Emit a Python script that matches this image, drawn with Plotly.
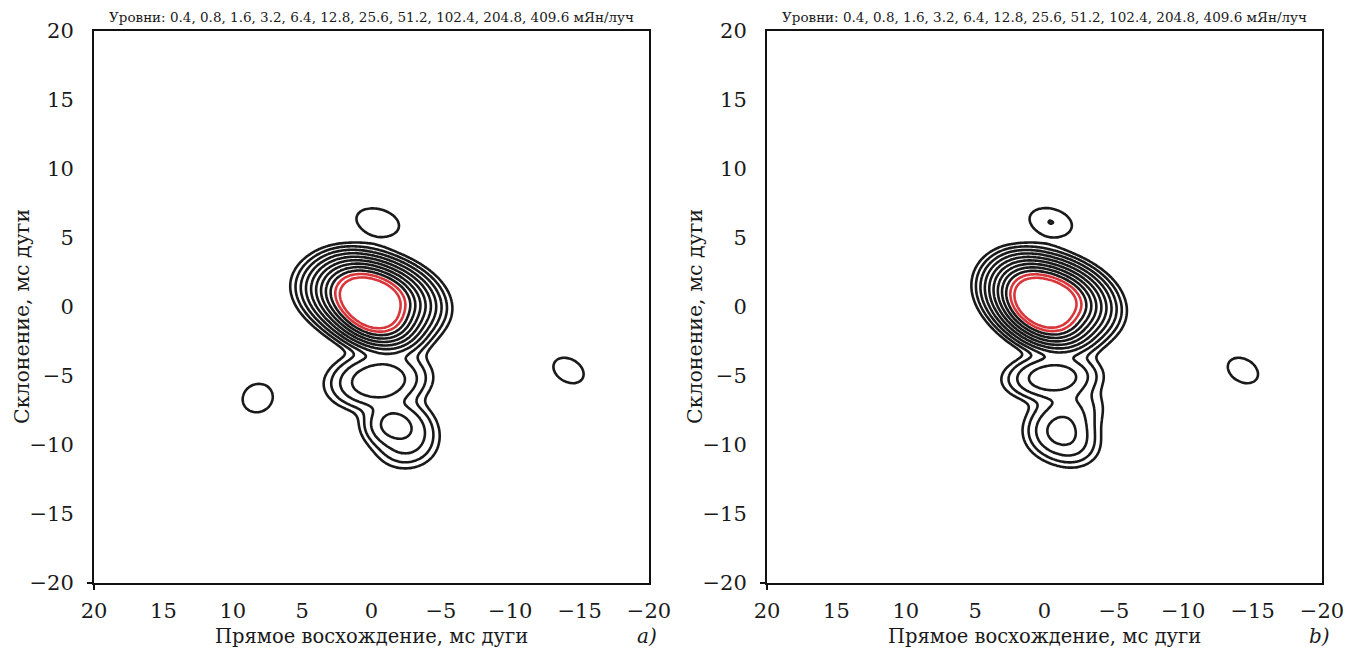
import numpy as np
import plotly.graph_objects as go

# ---- contour levels (mJy/beam) and axis ticks ----
LEVELS = [0.4, 0.8, 1.6, 3.2, 6.4, 12.8, 25.6, 51.2, 102.4, 204.8, 409.6]
TICKS = [20, 15, 10, 5, 0, -5, -10, -15, -20]
TITLE = "Уровни: " + ", ".join(f"{v:g}" for v in LEVELS) + " мЯн/луч"

# ---- source model components read from the maps (mas, mJy/beam) ----
# panel a
A_NAME = ["core_in", "core_out", "knot1", "knot2", "tail1", "tail2", "isl_top", "isl_left", "isl_right"]
A_X0 = [0.1, 0.0, -0.5, -1.5, -3.2, -2.3, -0.45, 8.2, -14.2]
A_Y0 = [0.2, 0.7, -5.35, -8.5, -9.0, -10.3, 6.15, -6.6, -4.6]
A_SA = [0.22, 0.29, 1.7, 1.1, 1.1, 1.2, 1.35, 1.05, 1.1]
A_SB = [0.155, 0.175, 1.0, 0.9, 1.0, 0.9, 0.82, 0.95, 0.78]
A_PA = [35, 12, -5, 0, 60, 0, 15, -30, 30]
A_AMP = [50000, 10400, 6.0, 4.0, 1.3, 1.2, 0.78, 0.7, 0.7]
A_PW = [1, 1, 2, 2, 2, 2, 2, 2, 2]

# panel b
B_NAME = ["core_in", "core_out", "knot1", "bridge", "knot2", "tail", "isl_top", "isl_right"]
B_X0 = [0.15, -0.45, -0.55, -2.0, -1.1, -2.2, -0.45, -14.3]
B_Y0 = [0.25, 0.6, -5.1, -7.2, -9.0, -10.2, 6.15, -4.6]
B_SA = [0.22, 0.275, 1.6, 1.4, 1.25, 1.1, 1.31, 1.1]
B_SB = [0.155, 0.175, 0.8, 1.0, 1.05, 0.9, 0.82, 0.78]
B_PA = [35, 15, -3, 0, 0, 0, 15, 30]
B_AMP = [50000, 10400, 5.5, 1.2, 3.9, 1.0, 0.805, 0.7]
B_PW = [1, 1, 2, 2, 2, 2, 2, 2]

GRID = np.linspace(-20, 20, 321)


def field(x0s, y0s, sas, sbs, pas, amps, pws):
    X, Y = np.meshgrid(GRID, GRID)
    F = np.zeros_like(X)
    for x0, y0, sa, sb, pa, amp, pw in zip(x0s, y0s, sas, sbs, pas, amps, pws):
        t = np.deg2rad(pa)
        dx, dy = X - x0, Y - y0
        u = dx * np.cos(t) + dy * np.sin(t)
        v = -dx * np.sin(t) + dy * np.cos(t)
        rho = np.sqrt((u / sa) ** 2 + (v / sb) ** 2)
        F += amp * np.exp(-0.5 * rho ** pw)
    return F


def level_index(F):
    # position of the flux on the x2 level ladder (0 -> 0.4 mJy/beam)
    return np.round(np.log2(np.maximum(F, 1e-9) / LEVELS[0]), 4)


FA = field(A_X0, A_Y0, A_SA, A_SB, A_PA, A_AMP, A_PW)
FB = field(B_X0, B_Y0, B_SA, B_SB, B_PA, B_AMP, B_PW)

nlev = len(LEVELS) - 1
BLACK = "#1a1a1a"
RED = "#d8363a"
cscale = [[0, BLACK], [0.85, BLACK], [0.86, RED], [1, RED]]

fig = go.Figure()
for F, xa, ya in [(FA, "x", "y"), (FB, "x2", "y2")]:
    fig.add_trace(go.Contour(
        x=GRID, y=GRID, z=np.clip(level_index(F), -3, nlev + 6),
        xaxis=xa, yaxis=ya,
        contours=dict(start=0, end=nlev, size=1, coloring="lines"),
        colorscale=cscale, zmin=0, zmax=nlev, zauto=False,
        line=dict(width=2.6, smoothing=1.0),
        showscale=False, hoverinfo="skip",
    ))

FONT = "DejaVu Serif"
OFF = 8  # page body margin of the html page
W, H = 1352 - OFF, 653 - OFF


def px(v):
    return (v - OFF) / W


def py(v):
    return 1 - (v - OFF) / H


doms = [(px(94), px(649)), (px(767), px(1322))]
ydom = (py(583), py(31))

axis_common = dict(
    range=[20, -20], tickvals=TICKS,
    ticktext=[str(t) if t >= 0 else "\u2212" + str(-t) for t in TICKS],
    showgrid=False, zeroline=False, showline=True, linecolor="#111", linewidth=2,
    mirror=True, ticks="", automargin=False,
    tickfont=dict(family=FONT, size=21, color="#1a1a1a"),
)
yaxis_common = dict(axis_common)
yaxis_common["range"] = [-20, 20]

fig.update_layout(
    width=W, height=H, margin=dict(l=0, r=0, t=0, b=0, autoexpand=False),
    plot_bgcolor="white", paper_bgcolor="white", showlegend=False,
    xaxis=dict(axis_common, domain=doms[0], anchor="y", ticklabelstandoff=8),
    yaxis=dict(yaxis_common, domain=ydom, anchor="x", ticklabelstandoff=14),
    xaxis2=dict(axis_common, domain=doms[1], anchor="y2", ticklabelstandoff=8),
    yaxis2=dict(yaxis_common, domain=ydom, anchor="x2", ticklabelstandoff=14),
)

ann = []
shapes = []
for i, (x_left, x_right) in enumerate([(94, 649), (767, 1322)]):
    cx = px((x_left + x_right) / 2)
    ann.append(dict(text=TITLE, x=cx, y=py(17), xref="paper", yref="paper", showarrow=False,
                    font=dict(family=FONT, size=13.5, color="#1a1a1a"), xanchor="center", yanchor="middle"))
    ann.append(dict(text="Прямое восхождение, мс дуги", x=cx, y=py(636), xref="paper", yref="paper",
                    showarrow=False, font=dict(family=FONT, size=19.5, color="#1a1a1a"),
                    xanchor="center", yanchor="middle"))
    ann.append(dict(text="Склонение, мс дуги", x=px(x_left - 72), y=py(317), xref="paper", yref="paper",
                    showarrow=False, textangle=-90, font=dict(family=FONT, size=20.5, color="#1a1a1a"),
                    xanchor="center", yanchor="middle"))
    ann.append(dict(text="<i>" + ("a)" if i == 0 else "b)") + "</i>", x=px(x_right + 10), y=py(636),
                    xref="paper", yref="paper", showarrow=False,
                    font=dict(family=FONT, size=20, color="#1a1a1a"), xanchor="right", yanchor="middle"))
    # corner tick marks at (20, -20)
    shapes.append(dict(type="line", xref="paper", yref="paper", x0=px(x_left - 7), x1=px(x_left),
                       y0=ydom[0], y1=ydom[0], line=dict(color="#111", width=2)))
    shapes.append(dict(type="line", xref="paper", yref="paper", x0=px(x_left), x1=px(x_left),
                       y0=py(590), y1=ydom[0], line=dict(color="#111", width=2)))

fig.update_layout(annotations=ann, shapes=shapes)
fig.write_html("out.html")
